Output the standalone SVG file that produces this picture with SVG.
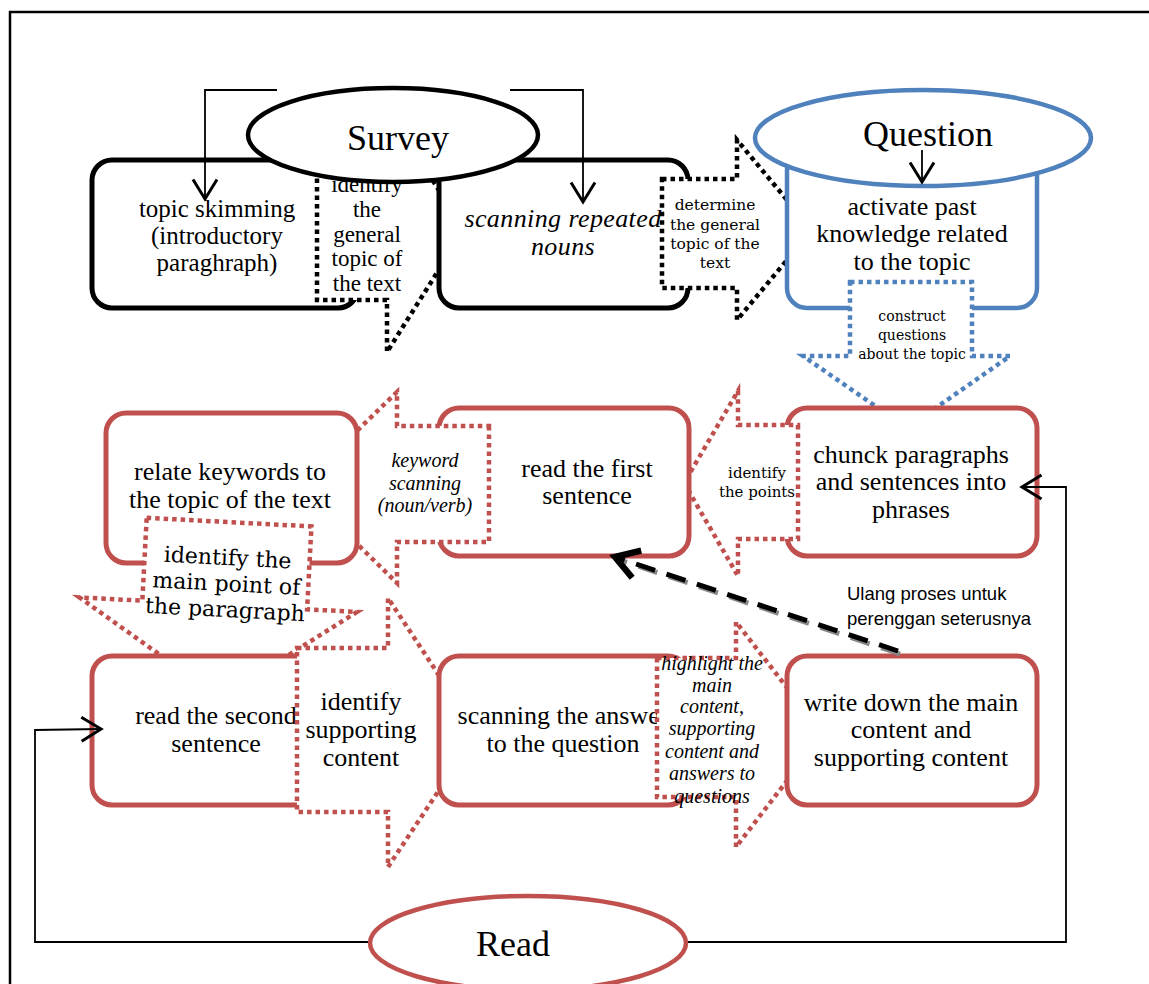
<svg xmlns="http://www.w3.org/2000/svg" width="1149" height="984" viewBox="0 0 1149 984">
<style>
.t{font-family:"Liberation Serif","Times New Roman",serif;fill:#000;text-anchor:middle}
.c{font-family:"DejaVu Serif",serif;fill:#000;text-anchor:middle}
.i{font-style:italic}
.bb{fill:#fff;stroke:#000;stroke-width:5}
.rb{fill:#fff;stroke:#C0504D;stroke-width:5}
.qb{fill:#fff;stroke:#4F81BD;stroke-width:4.5}
.kd{fill:#fff;stroke:#000;stroke-width:4.5;stroke-dasharray:4.5 4}
.rd{fill:#fff;stroke:#C0504D;stroke-width:4.5;stroke-dasharray:4.5 4}
.bd{fill:#fff;stroke:#4F81BD;stroke-width:4.5;stroke-dasharray:4.5 4}
.ln{fill:none;stroke:#000;stroke-width:1.8}
</style>
<defs>
<marker id="ah" markerUnits="userSpaceOnUse" markerWidth="30" markerHeight="30" viewBox="-16 -10 20 20" refX="0" refY="0" orient="auto">
<path d="M-13,-8 L0,0 L-13,8" fill="none" stroke="#000" stroke-width="2"/>
</marker>
<marker id="ahd" markerUnits="userSpaceOnUse" markerWidth="40" markerHeight="40" viewBox="-20 -14 26 28" refX="0" refY="0" orient="auto">
<path d="M-16,-10 L0,0 L-16,10" fill="none" stroke="#000" stroke-width="4.5"/>
</marker>
</defs>
<rect width="1149" height="984" fill="#fff"/>
<path d="M10,984 L10,12 L1149,12" fill="none" stroke="#000" stroke-width="2.5"/>

<g id="box-topic-skimming">
<rect class="bb" x="92" y="160" width="266" height="148" rx="20"/>
<text class="t" font-size="25"><tspan x="217" y="217">topic skimming</tspan><tspan x="217" y="244">(introductory</tspan><tspan x="217" y="271">paraghraph)</tspan></text>
</g>
<g id="callout-identify-general">
<path class="kd" d="M317,165 L387,165 L387,108 L464,230 L387,352 L387,300 L317,300 Z"/>
<text class="t" font-size="23"><tspan x="367" y="192">identify</tspan><tspan x="367" y="217">the</tspan><tspan x="367" y="242">general</tspan><tspan x="367" y="266">topic of</tspan><tspan x="367" y="291">the text</tspan></text>
</g>
<g id="box-scanning-nouns">
<rect class="bb" x="439" y="160" width="249" height="148" rx="20"/>
<text class="t i" font-size="26" letter-spacing="0.4"><tspan x="563" y="227">scanning repeated</tspan><tspan x="563" y="255">nouns</tspan></text>
</g>
<g id="callout-determine">
<path class="kd" d="M662,179 L737,179 L737,140 L812,230 L737,320 L737,288 L662,288 Z"/>
<text class="c" font-size="15.5"><tspan x="715" y="210">determine</tspan><tspan x="715" y="230">the general</tspan><tspan x="715" y="249">topic of the</tspan><tspan x="715" y="268">text</tspan></text>
</g>
<g id="box-activate">
<rect class="qb" x="787" y="150" width="250" height="158" rx="20"/>
<text class="t" font-size="26"><tspan x="912" y="215">activate past</tspan><tspan x="912" y="242">knowledge related</tspan><tspan x="912" y="270">to the topic</tspan></text>
</g>
<g id="node-question">
<ellipse class="qb" cx="923" cy="138" rx="168" ry="48"/>
<text class="t" font-size="36" x="928" y="146">Question</text>
</g>
<g id="node-survey">
<ellipse cx="393" cy="135" rx="145" ry="47" fill="#fff" stroke="#000" stroke-width="4.5"/>
<text class="t" font-size="36" x="398" y="150">Survey</text>
</g>
<g id="callout-construct">
<path class="bd" d="M850,282 L972,282 L972,356 L1010,356 L907,428 L803,356 L850,356 Z"/>
<text class="c" font-size="14"><tspan x="912" y="321">construct</tspan><tspan x="912" y="340">questions</tspan><tspan x="912" y="359">about the topic</tspan></text>
</g>

<g id="box-chunck">
<rect class="rb" x="787" y="408" width="250" height="148" rx="20"/>
<text class="t" font-size="26"><tspan x="911" y="463">chunck paragraphs</tspan><tspan x="911" y="490">and sentences into</tspan><tspan x="911" y="518">phrases</tspan></text>
</g>
<g id="callout-identify-points">
<path class="rd" d="M798,425 L798,539 L738,539 L738,576 L684,483 L738,391 L738,425 Z"/>
<text class="c" font-size="15"><tspan x="757" y="478">identify</tspan><tspan x="757" y="497">the points</tspan></text>
</g>
<g id="box-read-first">
<rect class="rb" x="439" y="408" width="250" height="148" rx="20"/>
<text class="t" font-size="26"><tspan x="587" y="477">read the first</tspan><tspan x="587" y="504">sentence</tspan></text>
</g>
<g id="callout-keyword">
<path class="rd" d="M489,426 L489,542 L397,542 L397,583 L299,487 L397,392 L397,426 Z"/>
<text class="t i" font-size="20"><tspan x="425" y="467">keyword</tspan><tspan x="425" y="490">scanning</tspan><tspan x="425" y="512">(noun/verb)</tspan></text>
</g>
<g id="box-relate">
<rect class="rb" x="106" y="413" width="251" height="150" rx="20"/>
<text class="t" font-size="26"><tspan x="230" y="480">relate keywords to</tspan><tspan x="230" y="508">the topic of the text</tspan></text>
</g>
<g id="callout-main-point" transform="rotate(3 225 590)">
<path class="rd" d="M143,522 L308,522 L308,605 L358,605 L226,698 L80,605 L143,605 Z"/>
<text class="c" font-size="22"><tspan x="226" y="565">identify the</tspan><tspan x="226" y="591">main point of</tspan><tspan x="226" y="617">the paragraph</tspan></text>
</g>

<g id="box-read-second">
<rect class="rb" x="92" y="656" width="250" height="149" rx="20"/>
<text class="t" font-size="26"><tspan x="216" y="724">read the second</tspan><tspan x="216" y="752">sentence</tspan></text>
</g>
<g id="callout-supporting">
<path class="rd" d="M297,648 L388,648 L388,598 L477,733 L388,867 L388,812 L297,812 Z"/>
<text class="t" font-size="26"><tspan x="361" y="710">identify</tspan><tspan x="361" y="738">supporting</tspan><tspan x="361" y="766">content</tspan></text>
</g>
<g id="box-scanning-answer">
<rect class="rb" x="439" y="656" width="249" height="149" rx="20"/>
<text class="t" font-size="26"><tspan x="563" y="724">scanning the answer</tspan><tspan x="563" y="752">to the question</tspan></text>
</g>
<g id="callout-highlight">
<path class="rd" d="M657,658 L736,658 L736,622 L823,734 L736,847 L736,797 L657,797 Z"/>
<text class="t i" font-size="20"><tspan x="712" y="670">highlight the</tspan><tspan x="712" y="692">main</tspan><tspan x="712" y="713">content,</tspan><tspan x="712" y="735">supporting</tspan><tspan x="712" y="758">content and</tspan><tspan x="712" y="780">answers to</tspan><tspan x="712" y="803">questions</tspan></text>
</g>
<g id="box-write-down">
<rect class="rb" x="787" y="656" width="250" height="149" rx="20"/>
<text class="t" font-size="26"><tspan x="911" y="711">write down the main</tspan><tspan x="911" y="738">content and</tspan><tspan x="911" y="766">supporting content</tspan></text>
</g>

<g id="connectors">
<path class="ln" d="M277,90 L205,90 L205,199" marker-end="url(#ah)"/>
<path class="ln" d="M510,90 L583,90 L583,202" marker-end="url(#ah)"/>
<path class="ln" d="M922,150 L922,182" marker-end="url(#ah)"/>
<path class="ln" d="M371,942 L35,942 L35,730 L101,729" marker-end="url(#ah)"/>
<path class="ln" d="M686,942 L1066,942 L1066,487 L1022,487" marker-end="url(#ah)"/>
<path d="M900,654 L617,559" fill="none" stroke="#888" stroke-width="5" stroke-dasharray="20 12"/>
<path d="M898,651 L615,557" fill="none" stroke="#000" stroke-width="5" stroke-dasharray="20 12" marker-end="url(#ahd)"/>
</g>
<text x="847" y="600" font-family="Liberation Sans, Arial, sans-serif" font-size="18.5" fill="#000">Ulang proses untuk</text>
<text x="847" y="625" font-family="Liberation Sans, Arial, sans-serif" font-size="18.5" fill="#000">perenggan seterusnya</text>

<g id="node-read">
<ellipse cx="528" cy="943" rx="158" ry="47" fill="#fff" stroke="#C0504D" stroke-width="4.5"/>
<text class="t" font-size="36" x="513" y="956">Read</text>
</g>
</svg>
